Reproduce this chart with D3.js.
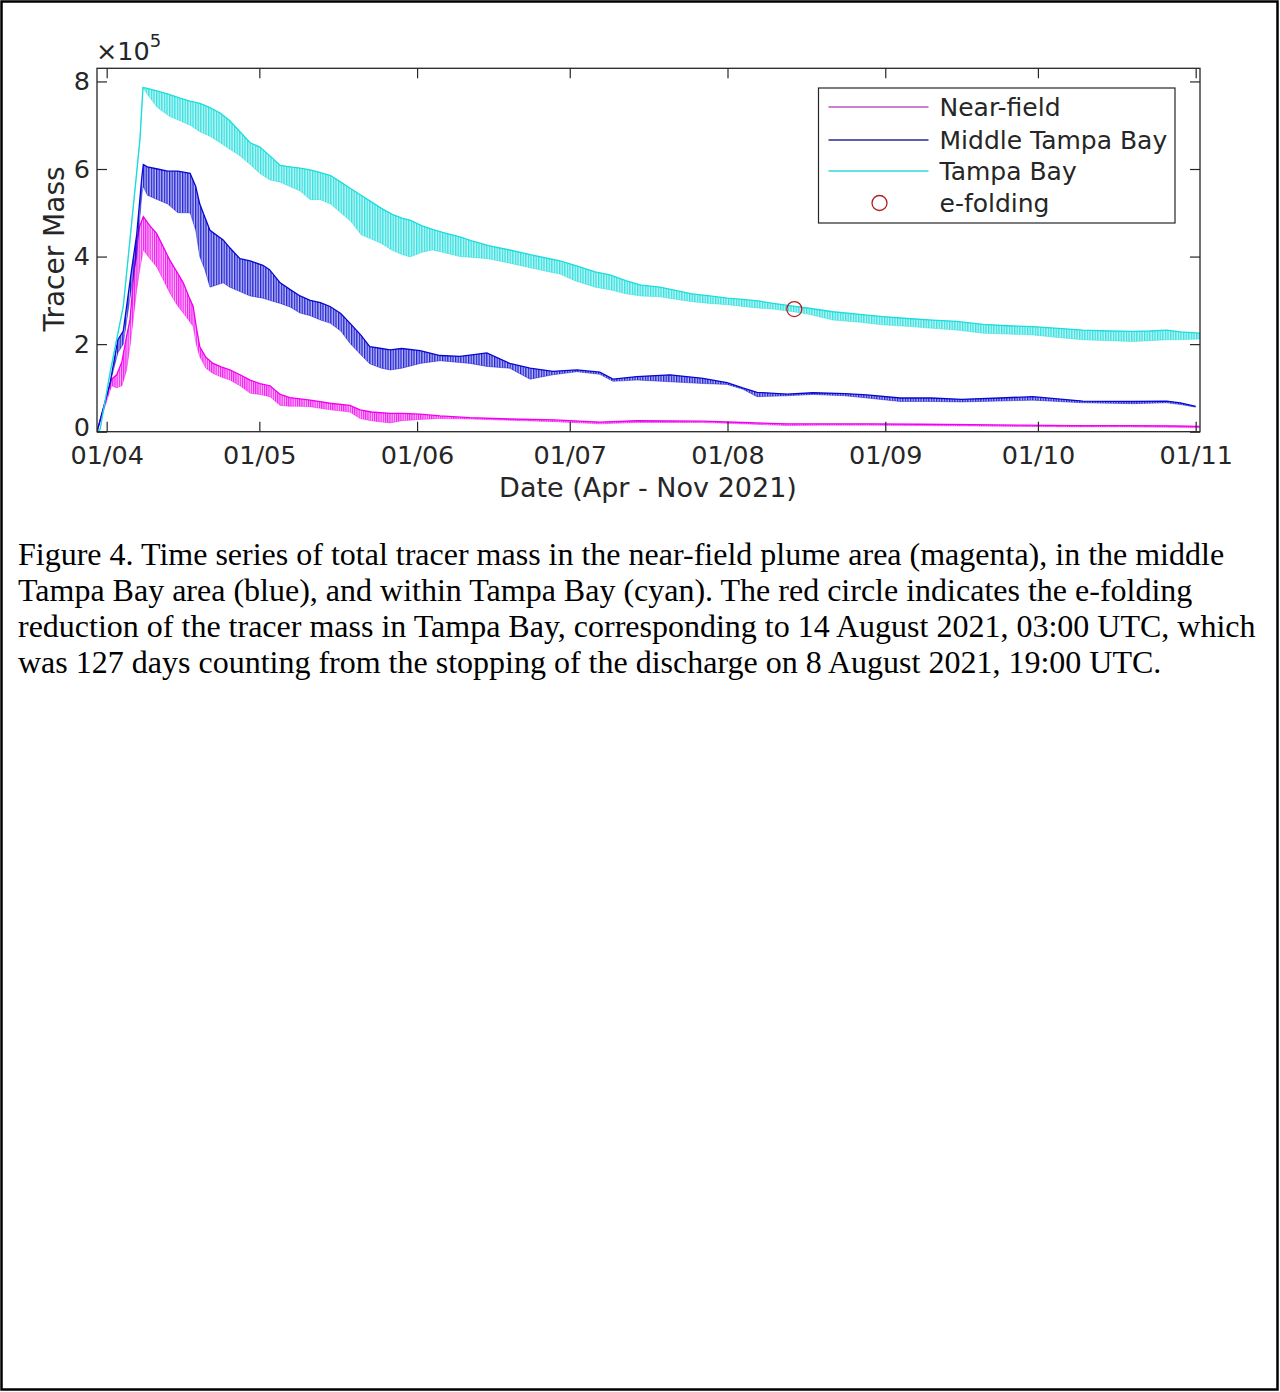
<!DOCTYPE html>
<html>
<head>
<meta charset="utf-8">
<script src="https://cdn.jsdelivr.net/npm/d3@7"></script>
<style>
  body { margin: 0; background: #fff; }
  svg { display: block; }
</style>
</head>
<body>
<div id="chart"></div>
<script>
// tracer mass in units of 1e5
// days are counted from 1 Apr 2021 00:00 UTC, high/low = envelope of the tidal wiggle

const nearDays = [-1.9, 0.98, 1.97, 3.0, 3.9, 4.58, 5.9, 6.5, 7.2, 8.5, 9.8, 11, 12.4, 13.8, 15.05, 16.1, 17.0, 17.6, 18.3, 19.5, 20.9, 22.5, 24.2, 26.2, 28.2, 30.1, 32.1, 34.1, 36, 38, 40, 43.9, 47.8, 49.8, 52, 55.7, 58, 61.6, 65.5, 71.4, 79.2, 88, 96.9, 104.2, 117.2, 125, 133.7, 140, 150, 160, 170, 180, 190, 200, 210, 214.8];
const nearHigh = [0, 1.2, 1.3, 1.6, 2.17, 2.55, 4.38, 4.7, 4.91, 4.7, 4.53, 4.25, 3.92, 3.65, 3.4, 3.1, 2.86, 2.4, 1.94, 1.7, 1.56, 1.48, 1.41, 1.3, 1.18, 1.1, 1.05, 0.85, 0.78, 0.75, 0.72, 0.65, 0.6, 0.5, 0.45, 0.42, 0.42, 0.4, 0.36, 0.32, 0.29, 0.27, 0.22, 0.25, 0.24, 0.21, 0.18, 0.18, 0.18, 0.17, 0.16, 0.15, 0.14, 0.14, 0.13, 0.12];
const nearLow  = [0, 1.05, 1.0, 1.05, 1.4, 1.94, 3.24, 3.7, 4.15, 3.95, 3.77, 3.5, 3.17, 2.9, 2.71, 2.55, 2.4, 2.0, 1.71, 1.45, 1.33, 1.25, 1.18, 1.05, 0.88, 0.85, 0.8, 0.6, 0.58, 0.58, 0.57, 0.5, 0.45, 0.3, 0.25, 0.2, 0.25, 0.28, 0.3, 0.29, 0.26, 0.23, 0.18, 0.21, 0.21, 0.18, 0.14, 0.15, 0.15, 0.14, 0.13, 0.12, 0.11, 0.11, 0.1, 0.09];

const midDays = [-1.9, 0.65, 2.2, 3.26, 4.9, 5.9, 6.9, 7.2, 8, 10, 12, 14, 16.4, 17.5, 18.3, 19.3, 20.3, 22.9, 24.2, 26.2, 28.2, 30.7, 32, 34.1, 36, 38, 40, 42, 43.9, 46, 47.8, 50, 51.7, 54, 55.7, 58, 61.6, 65.5, 69.4, 71.4, 74.7, 79.2, 83.2, 87.7, 92.4, 96.9, 99.5, 104.2, 110.7, 117.2, 121.9, 125, 127.8, 133.7, 138.8, 145, 149.4, 155.9, 162, 168, 175.5, 182, 191.8, 201.7, 208.3, 211, 214];
const midHigh = [0, 1.1, 2.1, 2.3, 3.7, 4.5, 5.8, 6.1, 6.05, 6.0, 5.95, 5.95, 5.9, 5.6, 5.2, 4.9, 4.6, 4.38, 4.2, 3.95, 3.9, 3.8, 3.7, 3.4, 3.25, 3.1, 3.0, 2.95, 2.86, 2.7, 2.48, 2.2, 1.94, 1.9, 1.87, 1.9, 1.85, 1.74, 1.72, 1.75, 1.8, 1.56, 1.45, 1.38, 1.41, 1.36, 1.2, 1.26, 1.3, 1.22, 1.12, 1.0, 0.9, 0.86, 0.89, 0.87, 0.84, 0.77, 0.77, 0.74, 0.77, 0.8, 0.7, 0.69, 0.7, 0.66, 0.58];
const midLow  = [0, 1.1, 1.8, 2.0, 3.3, 4.0, 5.4, 5.6, 5.4, 5.3, 5.2, 5.0, 5.0, 4.6, 4.0, 3.7, 3.3, 3.4, 3.3, 3.2, 3.1, 3.05, 3.0, 2.93, 2.85, 2.71, 2.65, 2.55, 2.48, 2.3, 2.02, 1.75, 1.55, 1.45, 1.41, 1.45, 1.56, 1.62, 1.58, 1.56, 1.49, 1.45, 1.2, 1.3, 1.37, 1.31, 1.15, 1.18, 1.14, 1.1, 1.08, 0.97, 0.8, 0.82, 0.85, 0.82, 0.77, 0.69, 0.69, 0.68, 0.7, 0.72, 0.66, 0.64, 0.66, 0.62, 0.56];

const bayDays = [-1.9, -1.3, 0.65, 3.26, 5.23, 6.54, 7.13, 8, 10, 12.4, 14.4, 16.4, 18.3, 20.3, 22.3, 24.2, 26.2, 28.2, 30.1, 32.1, 34.1, 36, 38, 40, 42, 44, 46, 48, 50, 52, 54, 56, 58, 59.6, 62, 64, 66, 69.4, 72, 75, 79.2, 83, 87, 89.1, 92, 96, 98.9, 102, 105, 108.7, 112, 115, 118.5, 122, 125, 128.4, 131, 134.9, 138, 142.7, 148, 152.5, 158, 162.3, 167, 172.2, 177, 182, 187, 191.8, 197, 201.7, 205, 208.3, 211, 214.8];
const bayHigh = [0, 0.05, 1.34, 2.86, 5.14, 6.67, 7.86, 7.84, 7.78, 7.7, 7.62, 7.55, 7.5, 7.4, 7.28, 7.1, 6.85, 6.6, 6.5, 6.3, 6.08, 6.05, 6.02, 5.98, 5.92, 5.85, 5.7, 5.55, 5.4, 5.25, 5.1, 4.97, 4.88, 4.83, 4.7, 4.62, 4.55, 4.45, 4.35, 4.25, 4.15, 4.05, 3.95, 3.9, 3.8, 3.65, 3.58, 3.45, 3.35, 3.3, 3.22, 3.15, 3.1, 3.05, 3.02, 2.98, 2.93, 2.87, 2.82, 2.74, 2.68, 2.63, 2.58, 2.55, 2.52, 2.45, 2.42, 2.4, 2.36, 2.32, 2.3, 2.29, 2.3, 2.32, 2.28, 2.25];
const bayLow  = [0, 0.05, 1.34, 2.86, 5.14, 6.67, 7.86, 7.7, 7.4, 7.2, 7.1, 7.0, 6.85, 6.75, 6.6, 6.45, 6.3, 6.1, 5.9, 5.75, 5.7, 5.6, 5.5, 5.3, 5.3, 5.2, 5.0, 4.8, 4.5, 4.4, 4.3, 4.15, 4.05, 3.99, 4.1, 4.15, 4.1, 4.0, 3.98, 3.95, 3.85, 3.75, 3.65, 3.6, 3.45, 3.3, 3.24, 3.15, 3.1, 3.08, 3.02, 2.97, 2.93, 2.9, 2.86, 2.82, 2.8, 2.74, 2.68, 2.55, 2.5, 2.44, 2.4, 2.36, 2.32, 2.25, 2.23, 2.21, 2.15, 2.1, 2.08, 2.06, 2.08, 2.1, 2.1, 2.12];

// e-folding point on the Tampa Bay curve
const eFoldDate = "2021-08-14T03:00:00Z";
const eFoldValue = 2.80;

const seriesNames = ["Near-field", "Middle Tampa Bay", "Tampa Bay"];
const monthTicks = ["2021-04-01", "2021-05-01", "2021-06-01", "2021-07-01", "2021-08-01", "2021-09-01", "2021-10-01", "2021-11-01"];
const yTicks = [0, 2, 4, 6, 8];

const captionLines = [
    "Figure 4. Time series of total tracer mass in the near-field plume area (magenta), in the middle",
    "Tampa Bay area (blue), and within Tampa Bay (cyan). The red circle indicates the e-folding",
    "reduction of the tracer mass in Tampa Bay, corresponding to 14 August 2021, 03:00 UTC, which",
    "was 127 days counting from the stopping of the discharge on 8 August 2021, 19:00 UTC."
];

const W = 1280, H = 1392;
const box = { left: 97, right: 1200, top: 68.3, bottom: 431.7 };
const ink = "#262626";
const font = "'DejaVu Sans', sans-serif";

const base = Date.UTC(2021, 3, 1);
const dayMs = 864e5;
const toDate = d => new Date(base + d * dayMs);

const series = [
    { name: seriesNames[0], days: nearDays, high: nearHigh, low: nearLow, color: "#f000ee", legend: "#c050c0", step: 2.2 },
    { name: seriesNames[1], days: midDays, high: midHigh, low: midLow, color: "#0808d0", legend: "#2a2a90", step: 2.6 },
    { name: seriesNames[2], days: bayDays, high: bayHigh, low: bayLow, color: "#1cdcdc", legend: "#30d8d8", step: 2.6 }
].map(s => {
    s.points = s.days.map((d, i) => ({ date: toDate(d), hi: s.high[i], lo: s.low[i] }));
    return s;
});

const svg = d3.select("#chart").append("svg")
    .attr("width", W)
    .attr("height", H)
    .attr("viewBox", `0 0 ${W} ${H}`);

// page frame
svg.append("rect")
    .attr("x", 1.5).attr("y", 1.5)
    .attr("width", W - 4).attr("height", H - 4)
    .attr("fill", "none")
    .attr("stroke", "#000")
    .attr("stroke-width", 2.5);

const x = d3.scaleUtc()
    .domain([toDate(-1.9), toDate(214.85)])
    .range([box.left, box.right]);

const y = d3.scaleLinear()
    .domain([0, 8.3])
    .range([box.bottom, box.top]);

// stripe patterns so the tidal wiggle reads as dense vertical strokes
const defs = svg.append("defs");
series.forEach((s, i) => {
    const p = defs.append("pattern")
        .attr("id", "stripe" + i)
        .attr("patternUnits", "userSpaceOnUse")
        .attr("width", s.step)
        .attr("height", 20);
    p.append("rect")
        .attr("width", s.step * 0.5)
        .attr("height", 20)
        .attr("fill", s.color);
});

defs.append("clipPath").attr("id", "plotclip")
    .append("rect")
    .attr("x", box.left).attr("y", box.top)
    .attr("width", box.right - box.left)
    .attr("height", box.bottom - box.top);

const plot = svg.append("g").attr("clip-path", "url(#plotclip)");

const band = d3.area()
    .x(d => x(d.date))
    .y0(d => y(d.lo))
    .y1(d => y(d.hi));

const hiLine = d3.line().x(d => x(d.date)).y(d => y(d.hi));
const loLine = d3.line().x(d => x(d.date)).y(d => y(d.lo));

series.forEach((s, i) => {
    const g = plot.append("g");
    g.append("path")
        .datum(s.points)
        .attr("d", band)
        .attr("fill", s.color)
        .attr("fill-opacity", 0.28);
    g.append("path")
        .datum(s.points)
        .attr("d", band)
        .attr("fill", `url(#stripe${i})`)
        .attr("opacity", 0.85);
    g.append("path")
        .datum(s.points)
        .attr("d", hiLine)
        .attr("fill", "none")
        .attr("stroke", s.color)
        .attr("stroke-width", 1.3);
    g.append("path")
        .datum(s.points)
        .attr("d", loLine)
        .attr("fill", "none")
        .attr("stroke", s.color)
        .attr("stroke-opacity", 0.5)
        .attr("stroke-width", 0.8);
});

// e-folding marker
plot.append("circle")
    .attr("cx", x(new Date(eFoldDate)))
    .attr("cy", y(eFoldValue))
    .attr("r", 7.5)
    .attr("fill", "none")
    .attr("stroke", "#b02020")
    .attr("stroke-width", 1.3);

// axes, MATLAB style: box on, ticks inward
const months = monthTicks.map(d => new Date(d + "T00:00:00Z"));
const fmt = d3.utcFormat("%d/%m");

const styleAxis = g => {
    g.select(".domain").remove();
    g.selectAll(".tick line").attr("stroke", ink).attr("stroke-width", 1.2);
    g.selectAll(".tick text")
        .attr("fill", ink)
        .style("font-family", font)
        .style("font-size", "25.5px");
};

svg.append("g")
    .attr("transform", `translate(0,${box.bottom})`)
    .call(d3.axisBottom(x).tickValues(months).tickFormat(fmt).tickSizeInner(-10).tickSizeOuter(0).tickPadding(14))
    .call(styleAxis);

svg.append("g")
    .attr("transform", `translate(0,${box.top})`)
    .call(d3.axisTop(x).tickValues(months).tickFormat("").tickSizeInner(-10).tickSizeOuter(0))
    .call(styleAxis);

const yAxis = svg.append("g")
    .attr("transform", `translate(${box.left},0)`)
    .call(d3.axisLeft(y).tickValues(yTicks).tickFormat(d3.format("d")).tickSizeInner(-10).tickSizeOuter(0).tickPadding(7))
    .call(styleAxis);
// the zero label sits just above the date labels, as in MATLAB
yAxis.selectAll(".tick text").filter(d => d === 0).attr("dy", "0.15em");

svg.append("g")
    .attr("transform", `translate(${box.right},0)`)
    .call(d3.axisRight(y).tickValues(yTicks).tickFormat("").tickSizeInner(-10).tickSizeOuter(0))
    .call(styleAxis);

svg.append("rect")
    .attr("x", box.left).attr("y", box.top)
    .attr("width", box.right - box.left)
    .attr("height", box.bottom - box.top)
    .attr("fill", "none")
    .attr("stroke", ink)
    .attr("stroke-width", 1.3);

// exponent label
const expo = svg.append("text")
    .attr("x", 96).attr("y", 60)
    .attr("fill", ink)
    .style("font-family", font)
    .style("font-size", "25.5px");
expo.append("tspan").text("\u00d710");
expo.append("tspan").attr("dy", -13).style("font-size", "18px").text("5");

svg.append("text")
    .attr("transform", `translate(64,${(box.top + box.bottom) / 2 - 1}) rotate(-90)`)
    .attr("text-anchor", "middle")
    .attr("fill", ink)
    .style("font-family", font)
    .style("font-size", "28px")
    .text("Tracer Mass");

svg.append("text")
    .attr("x", 648)
    .attr("y", 497)
    .attr("text-anchor", "middle")
    .attr("fill", ink)
    .style("font-family", font)
    .style("font-size", "27px")
    .text("Date (Apr - Nov 2021)");

// legend
const lg = svg.append("g").attr("transform", "translate(818.5,88)");
lg.append("rect")
    .attr("width", 356.5).attr("height", 135)
    .attr("fill", "#fff")
    .attr("stroke", ink)
    .attr("stroke-width", 1.2);

const legendFont = "25px";
const rowY = [19, 52, 83, 115];
series.forEach((s, i) => {
    lg.append("line")
        .attr("x1", 10).attr("x2", 110)
        .attr("y1", rowY[i]).attr("y2", rowY[i])
        .attr("stroke", s.legend)
        .attr("stroke-width", 1.3);
    lg.append("text")
        .attr("x", 121).attr("y", rowY[i])
        .attr("dy", "0.35em")
        .attr("fill", ink)
        .style("font-family", font)
        .style("font-size", legendFont)
        .text(s.name);
});
lg.append("circle")
    .attr("cx", 61).attr("cy", rowY[3])
    .attr("r", 7.5)
    .attr("fill", "none")
    .attr("stroke", "#b02020")
    .attr("stroke-width", 1.3);
lg.append("text")
    .attr("x", 121).attr("y", rowY[3])
    .attr("dy", "0.35em")
    .attr("fill", ink)
    .style("font-family", font)
    .style("font-size", legendFont)
    .text("e-folding");

// caption
const cap = svg.append("text")
    .attr("fill", "#000")
    .style("font-family", "'Liberation Serif', 'Times New Roman', serif")
    .style("font-size", "32px");
captionLines.forEach((t, i) => {
    cap.append("tspan")
        .attr("x", 18)
        .attr("y", 565 + i * 36)
        .text(t);
});
</script>
</body>
</html>
